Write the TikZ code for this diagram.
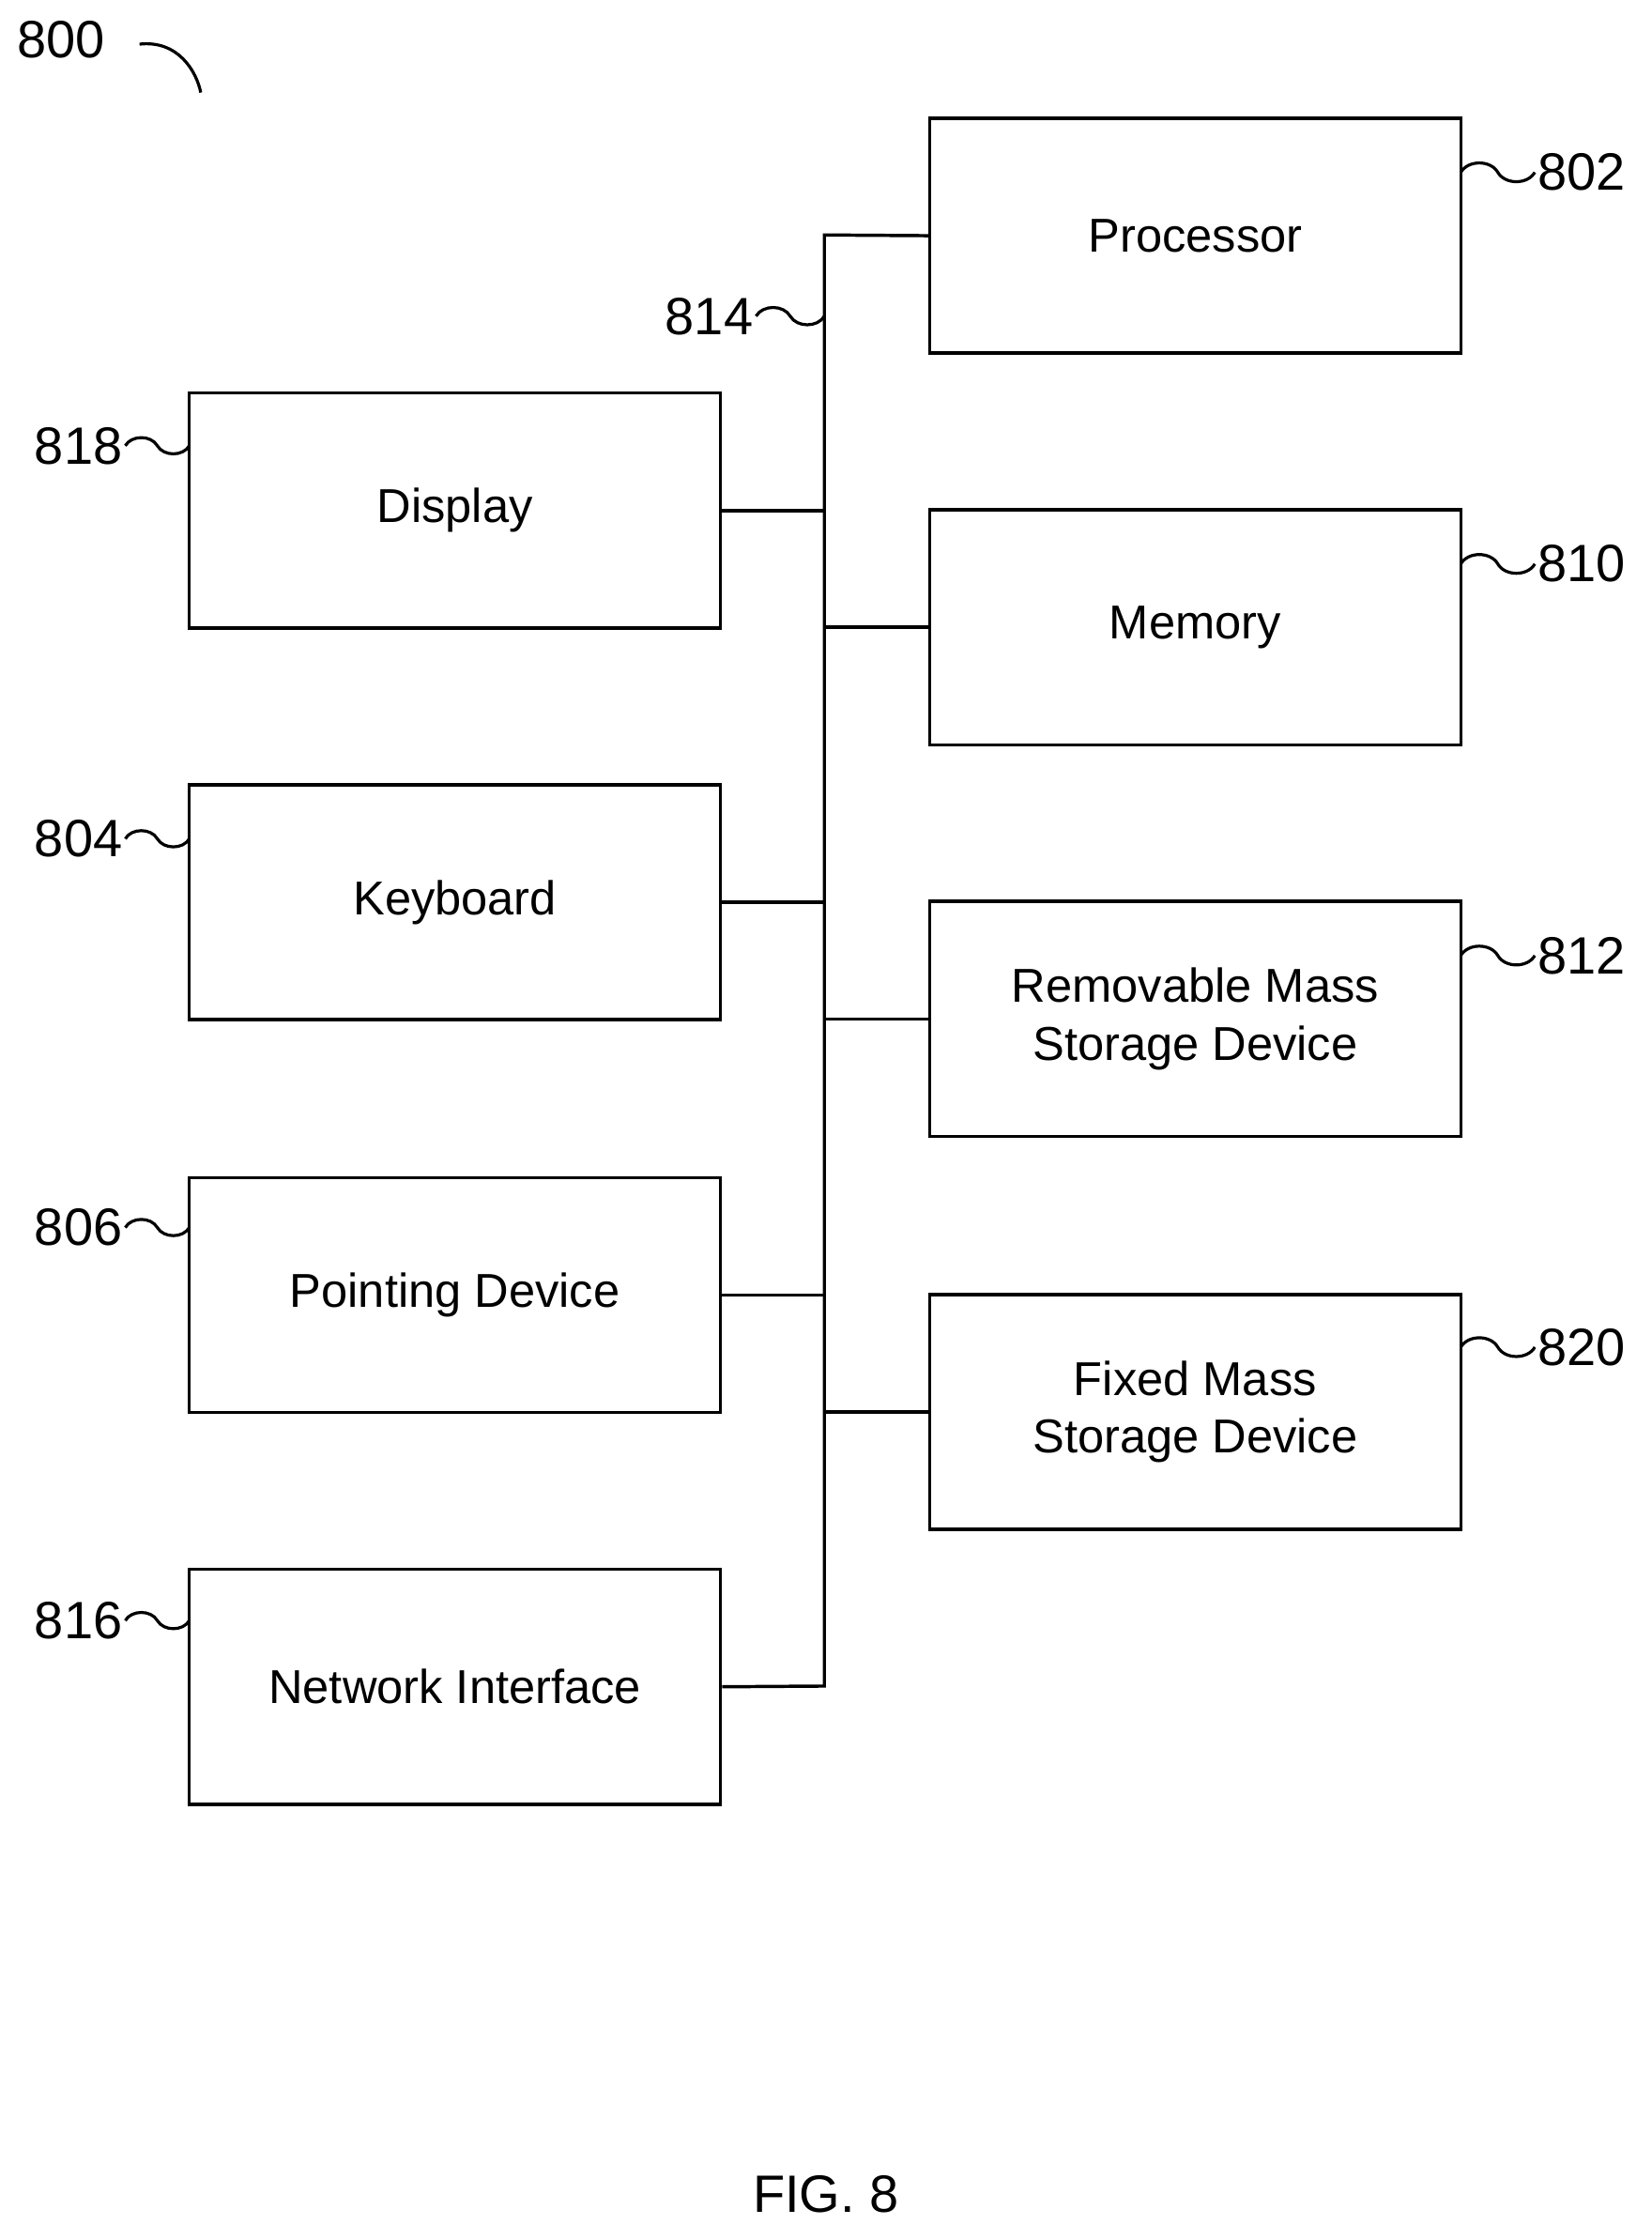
\documentclass[tikz,border=0pt]{standalone}
\usepackage{fontspec}
\setmainfont{Liberation Sans}
\usetikzlibrary{positioning,calc}

\newlength{\pxu}
\setlength{\pxu}{0.02cm}
\tikzset{
  blk/.style={draw,line width=1.3pt,minimum width=373\pxu,minimum height=165\pxu,
    align=center,font=\fontsize{19}{23}\selectfont,inner sep=0pt},
  ref/.style={font=\fontsize{21}{24}\selectfont,inner sep=1pt},
  squig/.style={line width=1.2pt},
  bus/.style={line width=1.3pt}
}
\newcommand{\tilda}[2]{\draw[squig] (#1) to[out=60,in=120] ($(#1)!0.5!(#2)$) to[out=-60,in=-120] (#2);}

\begin{document}
\begin{tikzpicture}[x=0.02cm,y=-0.02cm]
\useasboundingbox (0,0) rectangle (1160,1573);
% right column
\node[blk] (proc) at (839.5,165.5) {Processor};
\node[blk] (mem) at (839.5,440.5) {Memory};
\node[blk] (rmsd) at (839.5,715.5) {Removable Mass\\Storage Device};
\node[blk] (fmsd) at (839.5,991.5) {Fixed Mass\\Storage Device};
% left column
\node[blk] (disp) at (319.5,358.5) {Display};
\node[blk] (kbd) at (319.5,633.5) {Keyboard};
\node[blk] (pnt) at (319.5,909.5) {Pointing Device};
\node[blk] (net) at (319.5,1184.5) {Network Interface};
% bus
\coordinate (bustop) at (579,165);
\coordinate (busbot) at (579,1184);
\draw[bus] (proc.west) -- (bustop) -- (busbot) -- (net.east);
\foreach \b in {mem,rmsd,fmsd} \draw[bus] (\b.west) -- (\b.west -| bustop);
\foreach \b in {disp,kbd,pnt} \draw[bus] (\b.east) -- (\b.east -| bustop);
% reference numerals
\node[ref,anchor=west] (r802) at (1078,121) {802};
\node[ref,anchor=west] (r810) at (1078,396) {810};
\node[ref,anchor=west] (r812) at (1078,671) {812};
\node[ref,anchor=west] (r820) at (1078,946) {820};
\foreach \r/\y in {r802/121,r810/396,r812/671,r820/946}{
  \coordinate (s) at (1026,\y);
  \tilda{s}{\r.west}
}
\node[ref,anchor=east] (r818) at (88,313) {818};
\node[ref,anchor=east] (r804) at (88,589) {804};
\node[ref,anchor=east] (r806) at (88,862) {806};
\node[ref,anchor=east] (r816) at (88,1138) {816};
\foreach \r/\y in {r818/313,r804/589,r806/862,r816/1138}{
  \coordinate (e) at (133,\y);
  \tilda{\r.east}{e}
}
\node[ref,anchor=east] (r814) at (531,222) {814};
\coordinate (b814) at (579,222);
\tilda{r814.east}{b814}
\node[ref,anchor=west] (r800) at (10,28) {800};
\coordinate (a800) at (141,65);
\draw[squig] (98,31) .. controls (125,28) and (138,50) .. (a800);
\node[font=\fontsize{21}{24}\selectfont] (fig) at (580,1541) {FIG. 8};
\end{tikzpicture}
\end{document}
